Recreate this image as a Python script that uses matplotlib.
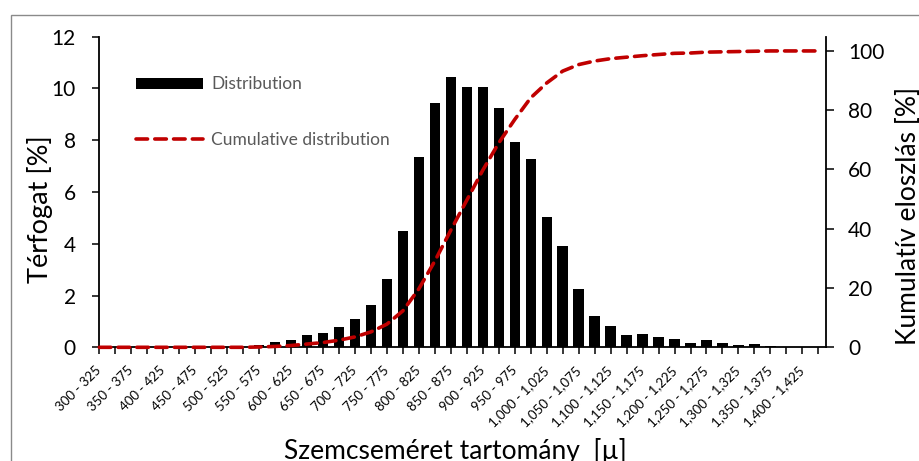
import matplotlib
matplotlib.use("Agg")
import matplotlib.pyplot as plt
from matplotlib.patches import Rectangle
from matplotlib.transforms import ScaledTranslation
import numpy as np

plt.rcParams['font.family'] = ['Lato', 'DejaVu Sans']

# Particle size classes [µm]
categories = [
    "300 - 325", "325 - 350", "350 - 375", "375 - 400", "400 - 425", "425 - 450",
    "450 - 475", "475 - 500", "500 - 525", "525 - 550", "550 - 575", "575 - 600",
    "600 - 625", "625 - 650", "650 - 675", "675 - 700", "700 - 725", "725 - 750",
    "750 - 775", "775 - 800", "800 - 825", "825 - 850", "850 - 875", "875 - 900",
    "900 - 925", "925 - 950", "950 - 975", "975 - 1,000", "1,000 - 1,025",
    "1,025 - 1,050", "1,050 - 1,075", "1,075 - 1,100", "1,100 - 1,125",
    "1,125 - 1,150", "1,150 - 1,175", "1,175 - 1,200", "1,200 - 1,225",
    "1,225 - 1,250", "1,250 - 1,275", "1,275 - 1,300", "1,300 - 1,325",
    "1,325 - 1,350", "1,350 - 1,375", "1,375 - 1,400", "1,400 - 1,425",
    "1,425 - 1,450",
]

# Volume fraction per class [%]
distribution = [
    0.0, 0.0, 0.0, 0.0, 0.0, 0.0, 0.0, 0.0, 0.0, 0.02,
    0.10, 0.19, 0.28, 0.49, 0.54, 0.80, 1.11, 1.65, 2.63, 4.49,
    7.37, 9.44, 10.43, 10.06, 10.06, 9.25, 7.92, 7.29, 5.02, 3.93,
    2.25, 1.21, 0.81, 0.48, 0.51, 0.39, 0.33, 0.15, 0.27, 0.15,
    0.09, 0.12, 0.05, 0.0, 0.0, 0.0,
]

# Cumulative distribution [%]
cumulative = [
    0.0, 0.0, 0.0, 0.0, 0.0, 0.0, 0.0, 0.0, 0.0, 0.0,
    0.1, 0.3, 0.6, 1.1, 1.6, 2.4, 3.5, 5.2, 7.8, 12.3,
    19.7, 29.1, 39.5, 49.6, 59.7, 68.9, 76.8, 84.1, 89.1, 93.1,
    95.3, 96.5, 97.3, 97.8, 98.3, 98.7, 99.1, 99.2, 99.5, 99.6,
    99.7, 99.8, 99.9, 99.9, 99.9, 99.9,
]

left_ticks = [0, 2, 4, 6, 8, 10, 12]
right_ticks = [0, 20, 40, 60, 80, 100]

W, H = 919, 461
fig = plt.figure(figsize=(W / 100, H / 100), dpi=100)
fig.patch.set_facecolor("white")

# outer chart frame
fig.patches.append(Rectangle((11 / W, -0.1), 1.2, 1 - 15 / H + 0.1,
                             transform=fig.transFigure, fill=False,
                             edgecolor="#8a8a8a", linewidth=1.0))

ax = fig.add_axes([99.3 / W, 1 - 347.3 / H, (825.7 - 99.3) / W, (347.3 - 36.7) / H])
ax.set_facecolor("none")
x = np.arange(len(categories))

bars = ax.bar(x, distribution, width=0.65, color="black", zorder=2,
              label="Distribution")
ax.set_xlim(0, 45.46)
ax.set_ylim(0, 12)
ax.set_yticks(left_ticks)
ax.set_xticks(x)
ax.set_xticklabels([c if i % 2 == 0 else "" for i, c in enumerate(categories)],
                   rotation=45, ha="right", va="center", rotation_mode="anchor",
                   fontsize=9.5)
shift = ScaledTranslation(5 / 72, 0, fig.dpi_scale_trans)
for lbl in ax.get_xticklabels():
    lbl.set_transform(lbl.get_transform() + shift)

ax.tick_params(axis="y", direction="out", length=5, width=1.1, labelsize=15,
               pad=12, colors="black")
ax.tick_params(axis="x", direction="out", length=5, width=1.1, pad=10.3)
for s in ["top", "right"]:
    ax.spines[s].set_visible(False)
for s in ["left", "bottom"]:
    ax.spines[s].set_linewidth(1.3)

ax.set_ylabel("Térfogat [%]", fontsize=19.5)
ax.yaxis.set_label_coords(-0.0633, 0.445)
ax.set_xlabel("Szemcseméret tartomány  [µ]", fontsize=19)
ax.xaxis.set_label_coords(0.4897, -0.292)

ax2 = ax.twinx()
line, = ax2.plot(x, cumulative, color="#C00000", linewidth=2.6,
                 linestyle=(0, (3.2, 2.0)), dash_capstyle="round",
                 solid_capstyle="round", label="Cumulative distribution",
                 zorder=3, clip_on=False)
ax2.set_ylim(0, 104.7)
ax2.set_yticks(right_ticks)
ax2.tick_params(axis="y", direction="out", length=6, width=1.1, labelsize=15,
                pad=10, colors="black")
for s in ["top", "left", "bottom"]:
    ax2.spines[s].set_visible(False)
ax2.spines["right"].set_linewidth(1.3)
ax2.set_ylabel("Kumulatív eloszlás [%]", fontsize=19)
ax2.yaxis.set_label_coords(1.0963, 0.4227)

leg = ax2.legend([bars, line], ["Distribution", "Cumulative distribution"],
                 loc="upper left", bbox_to_anchor=(0.051, 0.873),
                 frameon=False, fontsize=12.5, handlelength=3.85,
                 handleheight=0.6, handletextpad=0.45, labelspacing=2.3,
                 borderpad=0, borderaxespad=0)
for t in leg.get_texts():
    t.set_color("#595959")

fig.savefig("out.png", dpi=100)
